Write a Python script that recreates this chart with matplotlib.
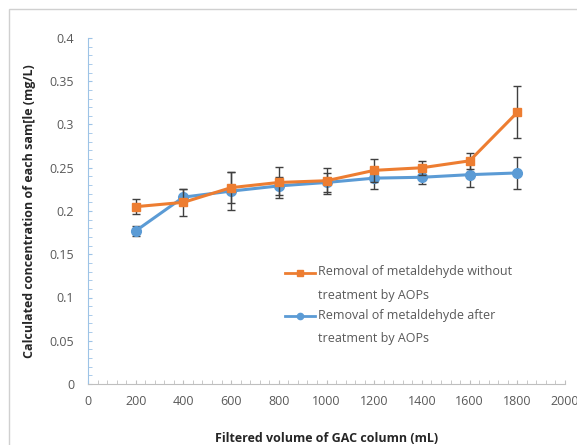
import numpy as np
import matplotlib.pyplot as plt
from matplotlib.patches import Rectangle
from matplotlib.lines import Line2D
from matplotlib.legend_handler import HandlerLine2D
from matplotlib.ticker import MultipleLocator

plt.rcParams["font.family"] = ["Open Sans", "DejaVu Sans"]

# Data
volume = [200, 400, 600, 800, 1000, 1200, 1400, 1600, 1800]
without_aop = [0.205, 0.210, 0.227, 0.233, 0.235, 0.247, 0.250, 0.258, 0.314]
without_err = [0.009, 0.016, 0.018, 0.018, 0.015, 0.013, 0.008, 0.009, 0.030]
after_aop = [0.177, 0.216, 0.223, 0.229, 0.233, 0.238, 0.239, 0.242, 0.244]
after_err = [0.006, 0.009, 0.022, 0.010, 0.011, 0.012, 0.008, 0.014, 0.018]

label_without = "Removal of metaldehyde without\ntreatment by AOPs"
label_after = "Removal of metaldehyde after\ntreatment by AOPs"

orange = "#ED7D31"
blue = "#5B9BD5"
text_gray = "#595959"


class FirstLineHandler(HandlerLine2D):
    """Put the legend line next to the first text line, like Excel does."""

    def create_artists(self, legend, orig_handle, xdescent, ydescent,
                       width, height, fontsize, trans):
        shift = 8.3  # points, half a text line
        return super().create_artists(legend, orig_handle, xdescent, ydescent,
                                      width, height + 2 * shift, fontsize, trans)


fig = plt.figure(figsize=(5.77, 4.45), dpi=100)
ax = fig.add_axes([88 / 577, 61 / 445, 477 / 577, 346 / 445])

# Outer frame of the chart area
fig.patches.append(
    Rectangle((9 / 577, -0.1), 1.2, (445 - 9) / 445 + 0.1,
              transform=fig.transFigure, fill=False,
              edgecolor="#D0D0D0", linewidth=1.0)
)

ax.errorbar(volume, without_aop, yerr=without_err, color=orange,
            marker="s", markersize=6, linewidth=2.2,
            ecolor="#404040", elinewidth=1.0, capsize=3, capthick=1.0,
            zorder=3)
ax.errorbar(volume, after_aop, yerr=after_err, color=blue,
            marker="o", markersize=7, linewidth=2.2,
            ecolor="#404040", elinewidth=1.0, capsize=3, capthick=1.0,
            zorder=2)

ax.set_xlim(0, 2000)
ax.set_ylim(0, 0.4)
ax.xaxis.set_major_locator(MultipleLocator(200))
ax.xaxis.set_minor_locator(MultipleLocator(40))
ax.yaxis.set_minor_locator(MultipleLocator(0.01))
ax.set_yticks(np.arange(0, 0.401, 0.05))
ax.set_yticklabels(["0", "0.05", "0.1", "0.15", "0.2", "0.25", "0.3", "0.35", "0.4"])

for s in ["top", "right"]:
    ax.spines[s].set_visible(False)
ax.spines["left"].set_color("#9DC3E6")
ax.spines["bottom"].set_color("#BFBFBF")

ax.tick_params(axis="y", which="both", direction="in", length=3,
               color="#9DC3E6", labelcolor=text_gray, labelsize=9, pad=10)
ax.tick_params(axis="x", which="both", direction="in", length=3,
               color="#BFBFBF", labelcolor=text_gray, labelsize=9, pad=8)

ax.set_xlabel("Filtered volume of GAC column (mL)", fontsize=9,
              fontweight="bold", color="#262626", labelpad=17)
ax.set_ylabel("Calculated concentration of each sam[le (mg/L)", fontsize=9,
              fontweight="bold", color="#262626", labelpad=10)

handles = [
    Line2D([], [], color=orange, marker="s", markersize=4, linewidth=2),
    Line2D([], [], color=blue, marker="o", markersize=4.5, linewidth=2),
]
leg = ax.legend(handles, [label_without, label_after],
                handler_map={Line2D: FirstLineHandler()},
                loc="upper left", bbox_to_anchor=(0.39, 0.375), frameon=False,
                fontsize=9, handlelength=2.4, labelspacing=0.6,
                handletextpad=0.2, labelcolor=text_gray)
for t in leg.get_texts():
    t.set_linespacing(2.0)

fig.savefig("out.png", dpi=100)
